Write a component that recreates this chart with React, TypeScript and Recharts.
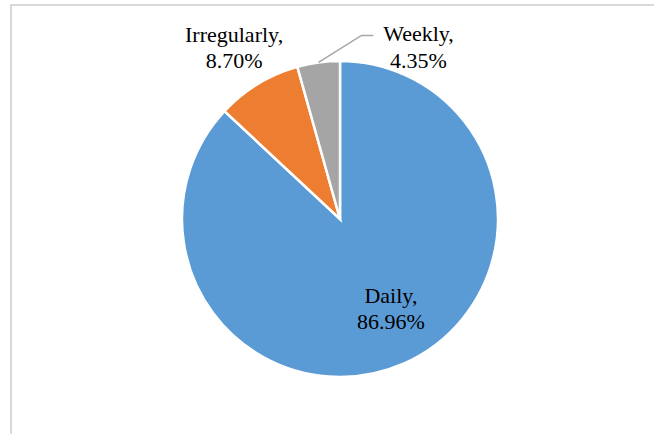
import { PieChart, Pie, Cell } from "recharts";

const categories = ["Daily", "Irregularly", "Weekly"];
const counts = [20, 2, 1];
const COLORS = ["#5B9BD5", "#ED7D31", "#A5A5A5"];

const data = categories.map((name, i) => ({ name, value: counts[i] }));

const RAD = Math.PI / 180;
const FONT = "'Liberation Serif', 'Times New Roman', serif";
const LINE = 26.5;

function LabelText({ x, y, lines }: { x: number; y: number; lines: string[] }) {
  return (
    <text
      x={x}
      y={y}
      textAnchor="middle"
      style={{ fontFamily: FONT, fontSize: 22 }}
      fill="#000"
      dominantBaseline="central"
    >
      <tspan x={x} y={y - LINE / 2}>
        {lines[0]}
      </tspan>
      <tspan x={x} y={y + LINE / 2}>
        {lines[1]}
      </tspan>
    </text>
  );
}

const renderLabel = (props: any) => {
  const { cx, cy, midAngle, outerRadius, percent, name, index } = props;
  const lines = [`${name},`, `${(percent * 100).toFixed(2)}%`];
  const cos = Math.cos(-midAngle * RAD);
  const sin = Math.sin(-midAngle * RAD);

  if (index === 0) {
    // inside the big slice
    const r = outerRadius * 0.65;
    return <LabelText x={cx + r * cos + 10} y={cy + r * sin - 5} lines={lines} />;
  }
  if (index === 1) {
    const r = outerRadius * 1.29;
    return <LabelText x={cx + r * cos} y={cy + r * sin + 2} lines={lines} />;
  }
  // small slice: pushed right with a leader line
  const sx = cx + outerRadius * cos;
  const sy = cy + outerRadius * sin;
  const ex = sx + 43;
  const ey = sy - 27;
  const hx = ex + 12;
  return (
    <g>
      <polyline
        points={`${sx},${sy} ${ex},${ey} ${hx},${ey}`}
        fill="none"
        stroke="#A6A6A6"
        strokeWidth={1.5}
      />
      <LabelText x={hx + 45} y={ey + 11} lines={lines} />
    </g>
  );
};

export default function App() {
  return (
    <div
      style={{
        position: "absolute",
        left: 0,
        top: 0,
        width: 654,
        height: 434,
        background: "#fff",
        overflow: "hidden",
      }}
    >
      <div
        style={{
          position: "absolute",
          left: 10,
          top: 4,
          width: 700,
          height: 500,
          borderLeft: "2px solid #D9D9D9",
          borderTop: "2px solid #D9D9D9",
        }}
      />
      <div style={{ position: "absolute", left: 0, top: 0 }}>
        <PieChart width={654} height={434} margin={{ top: 0, right: 0, bottom: 0, left: 0 }}>
          <Pie
            data={data}
            dataKey="value"
            nameKey="name"
            cx={340}
            cy={219}
            outerRadius={158}
            startAngle={90}
            endAngle={-270}
            stroke="#fff"
            strokeWidth={2.5}
            label={renderLabel}
            labelLine={false}
            isAnimationActive={false}
          >
            {data.map((_, i) => (
              <Cell key={i} fill={COLORS[i]} />
            ))}
          </Pie>
        </PieChart>
      </div>
    </div>
  );
}
